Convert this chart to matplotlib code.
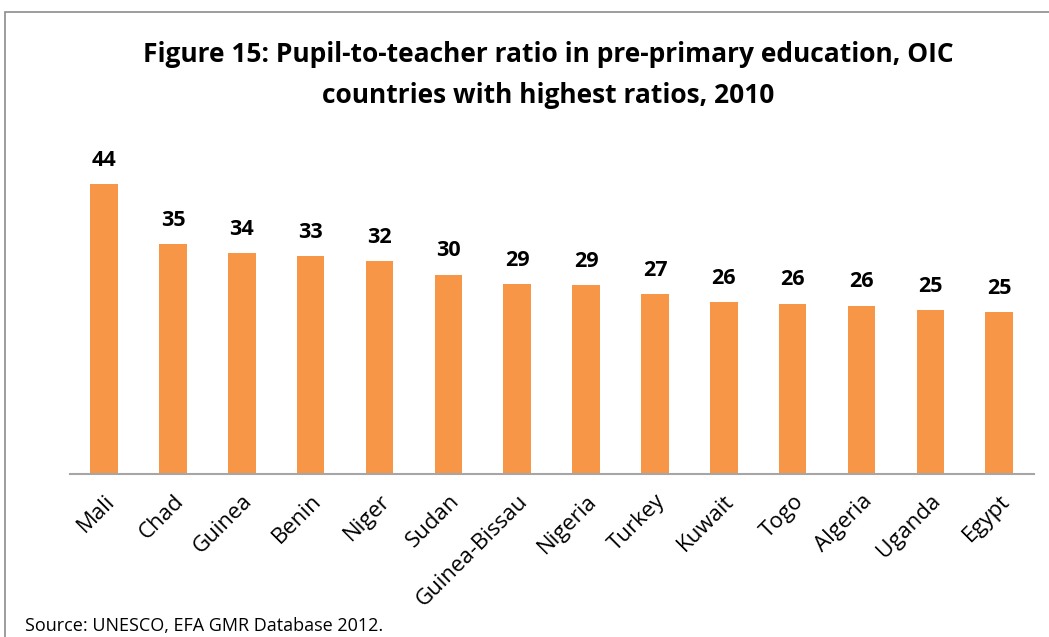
import matplotlib.pyplot as plt
from matplotlib.patches import Rectangle

countries = ["Mali", "Chad", "Guinea", "Benin", "Niger", "Sudan", "Guinea-Bissau",
             "Nigeria", "Turkey", "Kuwait", "Togo", "Algeria", "Uganda", "Egypt"]
ratios = [44.0, 35.0, 33.6, 33.1, 32.3, 30.3, 28.8, 28.7, 27.3, 26.1, 25.9, 25.6, 24.9, 24.6]

plt.rcParams['font.family'] = ['Open Sans', 'DejaVu Sans']

fig = plt.figure(figsize=(10.49, 6.37), dpi=100)
ax = fig.add_axes([0.0664, 0.2559, 0.919, 0.5165])

x = range(len(countries))
bars = ax.bar(x, ratios, width=0.4, color='#F79646')

for b, v in zip(bars, ratios):
    ax.text(b.get_x() + b.get_width() / 2, v + 2.0, f"{v:.0f}",
            ha='center', va='bottom', fontsize=15.5, fontweight='bold')

ax.set_xlim(-0.5, len(countries) - 0.5)
ax.set_ylim(0, 50)
ax.set_yticks([])
ax.set_xticks(list(x))
ax.set_xticklabels(countries, rotation=45, ha='right', rotation_mode='anchor', fontsize=16)
ax.tick_params(axis='x', length=0, pad=12)
for s in ['top', 'right', 'left']:
    ax.spines[s].set_visible(False)
ax.spines['bottom'].set_color('#A6A6A6')
ax.spines['bottom'].set_linewidth(1.5)

fig.text(0.523, 0.882, "Figure 15: Pupil-to-teacher ratio in pre-primary education, OIC\n"
         "countries with highest ratios, 2010", ha='center', va='center',
         fontsize=19, fontweight='bold', linespacing=1.65)

fig.text(0.024, 0.018, "Source: UNESCO, EFA GMR Database 2012.", ha='left', va='center', fontsize=13)

# outer chart border
fig.patches.append(Rectangle((5 / 1049, -0.1), 1.2, 1.1 - 12 / 637, transform=fig.transFigure,
                             fill=False, edgecolor='#8C8C8C', linewidth=1.2))

fig.savefig("out.png", dpi=100)
